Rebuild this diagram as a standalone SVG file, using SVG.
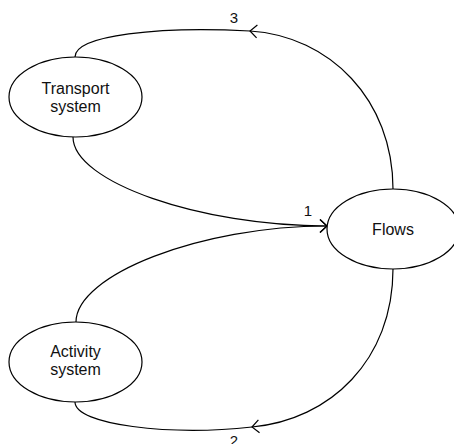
<svg xmlns="http://www.w3.org/2000/svg" width="454" height="444" viewBox="0 0 454 444">
<style>
.node ellipse{fill:#fff;stroke:#000;stroke-width:1.2}
text{font-family:"Liberation Sans",Arial,sans-serif;font-size:16px;fill:#111;text-anchor:middle}
.lbl{font-size:15px}
.edge{fill:none;stroke:#000;stroke-width:1.2}
</style>
<defs>
<marker id="arr" viewBox="-10 -8 12 16" refX="0" refY="0" markerWidth="12" markerHeight="16" markerUnits="userSpaceOnUse" orient="auto">
<path d="M-7,-6.5 L0,0 L-7,6.5" fill="none" stroke="#000" stroke-width="1.2"/>
</marker>
</defs>
<rect width="454" height="444" fill="#fff"/>
<g id="connectors">
<path class="edge" d="M393,189 C393,100 330,36 250,31" marker-end="url(#arr)"/>
<path class="edge" d="M250,31 C160,26 75,35 75,57"/>
<path class="edge" d="M73,137 C73,182 200,226 327,226" marker-end="url(#arr)"/>
<path class="edge" d="M76,322 C76,275 200,226 327,226" marker-end="url(#arr)"/>
<path class="edge" d="M393,269 C393,360 330,420 252,427" marker-end="url(#arr)"/>
<path class="edge" d="M252,427 C170,436 75,425 75,402"/>
<text class="lbl" x="234" y="23">3</text>
<text class="lbl" x="308" y="216">1</text>
<text class="lbl" x="234" y="446">2</text>
</g>
<g id="transport" class="node">
<ellipse cx="75.5" cy="97" rx="66.5" ry="40"/>
<text x="75.5" y="93.5">Transport</text>
<text x="75.5" y="111.5">system</text>
</g>
<g id="flows" class="node">
<ellipse cx="393" cy="229" rx="66" ry="40"/>
<text x="393" y="235">Flows</text>
</g>
<g id="activity" class="node">
<ellipse cx="75.5" cy="362" rx="66.5" ry="40"/>
<text x="75.5" y="357">Activity</text>
<text x="75.5" y="375">system</text>
</g>
</svg>
